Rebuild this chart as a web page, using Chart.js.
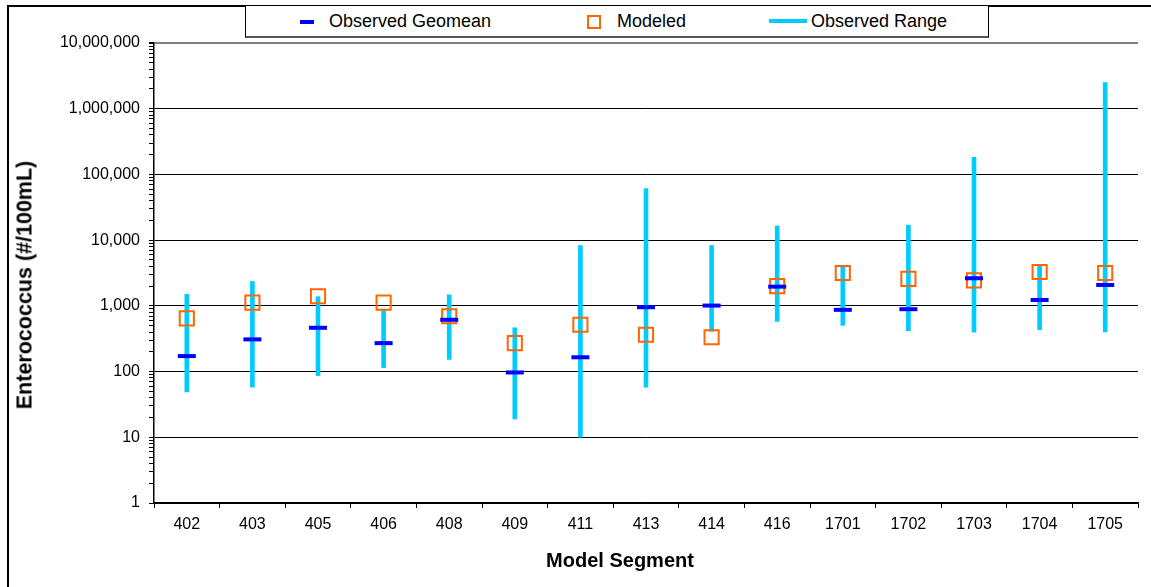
<!DOCTYPE html>
<html>
<head>
<meta charset="utf-8">
<script src="https://cdn.jsdelivr.net/npm/chart.js@4.4.0/dist/chart.umd.min.js"></script>
<style>
  body { margin: 0; background: #fff; }
  #wrap { position: relative; width: 1151px; height: 587px; overflow: hidden; background: #fff;
          font-family: "Liberation Sans", Arial, sans-serif; color: #000; }
  #chart { position: absolute; left: 0; top: 0; }
  .frame { position: absolute; left: 7px; top: 5px; width: 1200px; height: 700px;
           border-left: 2px solid #000; border-top: 2px solid #000; pointer-events: none; }
  .legend { position: absolute; left: 245px; top: 5px; width: 742px; height: 30px;
            border: 1px solid #000; border-bottom: 2px solid #555; background: #fff; font-size: 18px; }
  .legend span { position: absolute; top: 5px; white-space: nowrap; }
  .legend i { position: absolute; display: block; }
  .title { position: absolute; font-weight: bold; font-size: 20px; white-space: nowrap;
           transform: translate(-50%, -50%); }
</style>
</head>
<body>
<div id="wrap">
  <canvas id="chart" width="1151" height="587"></canvas>
  <div class="frame"></div>
  <div class="legend">
    <i style="left:54px;top:14px;width:14px;height:4px;background:#0000FF"></i>
    <span style="left:83px">Observed Geomean</span>
    <i style="left:341px;top:9px;width:10px;height:10px;border:2px solid #FF6600"></i>
    <span style="left:371px">Modeled</span>
    <i style="left:523px;top:13px;width:38px;height:4px;background:#00CCFF"></i>
    <span style="left:565px">Observed Range</span>
  </div>
  <div class="title" style="left:620px;top:560px">Model Segment</div>
  <div class="title" style="left:25px;top:285px;font-size:21.5px;transform:translate(-50%,-50%) rotate(-90deg)">Enterococcus (#/100mL)</div>
</div>
<script>
// model segments and values
const segments = ['402', '403', '405', '406', '408', '409', '411', '413', '414', '416', '1701', '1702', '1703', '1704', '1705'];
const geomean = [172, 309, 464, 271, 614, 97, 165, 953, 1010, 1960, 870, 890, 2630, 1230, 2080];
const modeled = [645, 1120, 1400, 1120, 696, 271, 516, 364, 333, 2000, 3160, 2570, 2440, 3270, 3160];
const rangeLow = [49, 58, 87, 115, 153, 19, 10, 58, 410, 580, 505, 418, 398, 433, 400];
const rangeHigh = [1500, 2350, 1380, 850, 1470, 464, 8300, 61000, 8300, 16400, 4000, 16900, 182000, 4000, 2500000];

const yMin = 1;
const yMax = 10000000;

Chart.defaults.font.family = '"Liberation Sans", Arial, sans-serif';
Chart.defaults.color = '#000';

try {
    const ctx = document.getElementById('chart').getContext('2d');
    const ranges = rangeLow.map((lo, i) => [lo, rangeHigh[i]]);

    new Chart(ctx, {
        data: {
            labels: segments,
            datasets: [{
                type: 'line',
                label: 'Observed Geomean',
                data: geomean,
                showLine: false,
                pointStyle: 'line',
                pointRadius: 9,
                pointBorderWidth: 4,
                borderColor: '#0000FF',
                backgroundColor: '#0000FF'
            }, {
                type: 'line',
                label: 'Modeled',
                data: modeled,
                showLine: false,
                pointStyle: 'rect',
                pointRadius: 10,
                pointBorderWidth: 2,
                borderColor: '#FF6600',
                backgroundColor: 'rgba(0,0,0,0)'
            }, {
                type: 'bar',
                label: 'Observed Range',
                data: ranges,
                barThickness: 4,
                backgroundColor: '#00CCFF',
                borderWidth: 0
            }]
        },
        options: {
            responsive: false,
            animation: false,
            events: [],
            layout: { padding: { top: 43, right: 8, left: 0, bottom: 0 } },
            plugins: {
                legend: { display: false },
                tooltip: { enabled: false }
            },
            scales: {
                x: {
                    type: 'category',
                    offset: true,
                    afterFit: (scale) => { scale.height = 84; },
                    grid: {
                        offset: true,
                        color: (c) => c.index === segments.length ? '#808080' : 'rgba(0,0,0,0)',
                        lineWidth: (c) => c.index === segments.length ? 2 : 1,
                        tickColor: '#000',
                        tickLength: 5
                    },
                    border: { color: '#000', width: 1.5 },
                    ticks: { font: { size: 16 }, padding: 7, maxRotation: 0 }
                },
                y: {
                    type: 'logarithmic',
                    min: yMin,
                    max: yMax,
                    afterFit: (scale) => { scale.width = 154; },
                    afterBuildTicks: (scale) => {
                        const t = [];
                        for (let d = yMin; d < yMax; d *= 10) {
                            for (let k = 1; k < 10; k++) t.push({ value: d * k, major: k === 1 });
                        }
                        t.push({ value: yMax, major: true });
                        scale.ticks = t;
                    },
                    grid: {
                        color: (c) => {
                            if (!c.tick || !c.tick.major) return 'rgba(0,0,0,0)';
                            return c.tick.value === yMax ? '#808080' : '#000';
                        },
                        lineWidth: (c) => (c.tick && c.tick.value === yMax) ? 2 : 1,
                        tickColor: '#000',
                        tickLength: 5
                    },
                    border: { color: '#000', width: 1.5 },
                    ticks: {
                        autoSkip: false,
                        font: { size: 16 },
                        padding: 9,
                        callback: function (value, index, ticks) {
                            return ticks[index].major ? Number(value).toLocaleString('en-US') : '';
                        }
                    }
                }
            }
        }
    });
} catch (error) {
    console.log(error);
}
</script>
</body>
</html>
